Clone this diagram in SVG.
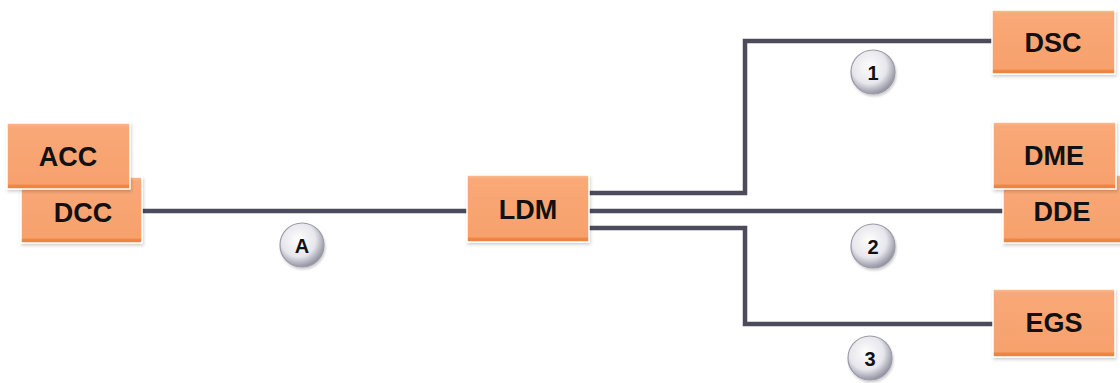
<svg xmlns="http://www.w3.org/2000/svg" width="1120" height="383" viewBox="0 0 1120 383">
<defs>
<linearGradient id="boxg" x1="0" y1="0" x2="0" y2="1">
<stop offset="0" stop-color="#fbbc92"/>
<stop offset="0.06" stop-color="#f9a877"/>
<stop offset="0.92" stop-color="#f7a16d"/>
<stop offset="0.95" stop-color="#ee8440"/>
<stop offset="1" stop-color="#ee8440"/>
</linearGradient>
<radialGradient id="circg" cx="0.42" cy="0.38" r="0.65">
<stop offset="0" stop-color="#ffffff"/>
<stop offset="0.6" stop-color="#e6e6ec"/>
<stop offset="1" stop-color="#8a8a9a"/>
</radialGradient>
<filter id="sh" x="-10%" y="-10%" width="130%" height="140%">
<feDropShadow dx="1" dy="2" stdDeviation="1.5" flood-color="#000" flood-opacity="0.18"/>
</filter>
<filter id="csh" x="-20%" y="-20%" width="150%" height="150%">
<feDropShadow dx="1" dy="2" stdDeviation="1.2" flood-color="#000" flood-opacity="0.2"/>
</filter>
</defs>
<style>
.box{fill:url(#boxg);stroke:#ffffff;stroke-width:1.5;filter:url(#sh)}
.bt{font-family:"Liberation Sans",Arial,sans-serif;font-weight:bold;font-size:27px;fill:#111;text-anchor:middle;dominant-baseline:central}
.ln{fill:none;stroke:#4b4b5c;stroke-width:4.5}
.c{fill:url(#circg);stroke:#9a9aa8;stroke-width:1.2;filter:url(#csh)}
.ct{font-family:"Liberation Sans",Arial,sans-serif;font-weight:bold;font-size:20px;fill:#111;text-anchor:middle;dominant-baseline:central}
</style>
<rect width="1120" height="383" fill="#ffffff"/>
<g id="connectors">
<line class="ln" x1="142" y1="211" x2="467" y2="211"/>
<polyline class="ln" points="589,193 745,193 745,41 992,41"/>
<line class="ln" x1="589" y1="211" x2="1003" y2="211"/>
<polyline class="ln" points="589,228 745,228 745,324 993,324"/>
</g>
<g id="node-DCC"><rect class="box" x="21" y="177" width="121" height="66"/><text class="bt" x="83" y="213">DCC</text></g>
<g id="node-ACC"><rect class="box" x="7" y="123" width="123" height="66"/><text class="bt" x="68" y="157">ACC</text></g>
<g id="node-LDM"><rect class="box" x="467" y="175" width="122" height="67"/><text class="bt" x="528" y="210">LDM</text></g>
<g id="node-DSC"><rect class="box" x="992" y="10" width="123" height="64"/><text class="bt" x="1053" y="43">DSC</text></g>
<g id="node-DDE"><rect class="box" x="1003" y="175" width="121" height="68"/><text class="bt" x="1062" y="212">DDE</text></g>
<g id="node-DME"><rect class="box" x="993" y="122" width="123" height="67"/><text class="bt" x="1054" y="156">DME</text></g>
<g id="node-EGS"><rect class="box" x="993" y="289" width="122" height="68"/><text class="bt" x="1054" y="323">EGS</text></g>
<g id="badge-A"><circle class="c" cx="302" cy="245" r="22"/><text class="ct" x="302" y="246">A</text></g>
<g id="badge-1"><circle class="c" cx="873" cy="72" r="22"/><text class="ct" x="873" y="73">1</text></g>
<g id="badge-2"><circle class="c" cx="873" cy="246" r="22"/><text class="ct" x="873" y="247">2</text></g>
<g id="badge-3"><circle class="c" cx="870" cy="358" r="22"/><text class="ct" x="870" y="359">3</text></g>
</svg>
